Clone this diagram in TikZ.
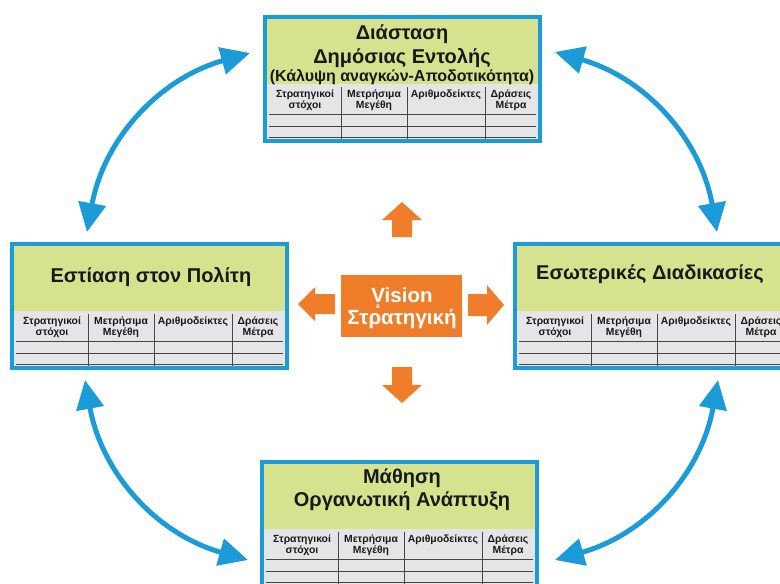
\documentclass[tikz,border=0pt]{standalone}
\usepackage{fontspec}
\setmainfont{Liberation Sans}
\usetikzlibrary{arrows.meta}

\definecolor{cardblue}{RGB}{27,155,215}
\definecolor{cardgreen}{RGB}{214,226,142}
\definecolor{cardgray}{RGB}{229,229,231}
\definecolor{visionorange}{RGB}{240,125,42}
\definecolor{tableline}{RGB}{70,70,70}
\definecolor{inkdark}{RGB}{25,25,25}

\tikzset{
  cardframe/.style={draw=cardblue, line width=4pt, minimum width=275pt,
    minimum height=124pt, inner sep=0pt},
  headtext/.style={anchor=base, inner sep=0pt, text=inkdark,
    font=\fontsize{10.4}{12}\selectfont\bfseries},
  titletext/.style={anchor=base, inner sep=0pt, text=inkdark,
    font=\fontsize{20}{24}\selectfont\bfseries},
  subtitletext/.style={anchor=base, inner sep=0pt, text=inkdark,
    font=\fontsize{16}{18}\selectfont\bfseries},
  visiontext/.style={anchor=base, inner sep=0pt, text=white,
    font=\fontsize{20.5}{24}\selectfont\bfseries},
  gridline/.style={draw=tableline, line width=0.8pt},
  cycle arrow/.style={draw=cardblue, line width=5pt,
    {Triangle[length=29pt,width=27pt]}-{Triangle[length=29pt,width=27pt]}},
  orange arrow/.style={fill=visionorange},
}

% One scorecard panel: #1 name, (#2,#3) top-left corner of its frame
\newcommand{\scorecard}[3]{%
  \begin{scope}[shift={(#2,#3)}]
    \fill[cardgray] (2,2) rectangle (277,126);
    \fill[cardgreen] (2,2) rectangle (277,69);
    \draw[gridline] (6,99) -- (273,99) (6,111) -- (273,111) (6,122) -- (273,122);
    \draw[gridline] (78,72) -- (78,124) (144,72) -- (144,124) (222,72) -- (222,124);
    \node[headtext] (#1-s1) at (42,82) {Στρατηγικοί};
    \node[headtext] (#1-s2) at (42,93) {στόχοι};
    \node[headtext] (#1-m1) at (111,82) {Μετρήσιμα};
    \node[headtext] (#1-m2) at (111,93) {Μεγέθη};
    \node[headtext] (#1-a1) at (183,82) {Αριθμοδείκτες};
    \node[headtext] (#1-d1) at (248,82) {Δράσεις};
    \node[headtext] (#1-d2) at (248,93) {Μέτρα};
    \node[cardframe] (#1) at (139.5,64) {};
  \end{scope}}

\begin{document}
\begin{tikzpicture}[x=1pt,y=-1pt]
  \useasboundingbox (0,0) rectangle (780,584);
  \clip (0,0) rectangle (780,584);
  \fill[white] (0,0) rectangle (780,584);

  % the four perspectives
  \scorecard{mandate}{263}{15}
  \scorecard{citizen}{10}{242}
  \scorecard{process}{513}{242}
  \scorecard{learning}{260}{460}

  \node[titletext] (mandate-t1) at (402,39) {Διάσταση};
  \node[titletext] (mandate-t2) at (402,63) {Δημόσιας Εντολής};
  \node[subtitletext] (mandate-t3) at (402,81) {(Κάλυψη αναγκών-Αποδοτικότητα)};
  \node[titletext] (citizen-t) at (151,282) {Εστίαση στον Πολίτη};
  \node[titletext] (process-t) at (650,279) {Εσωτερικές Διαδικασίες};
  \node[titletext] (learning-t1) at (402,483) {Μάθηση};
  \node[titletext] (learning-t2) at (402,506) {Οργανωτική Ανάπτυξη};

  % centre: vision and strategy
  \node[fill=visionorange, minimum width=121pt, minimum height=62pt, inner sep=0pt]
    (vision) at (401.5,306) {};
  \node[visiontext, text depth=0pt] (vision-t1) at (402,302) {Vision};
  \node[anchor=base, inner sep=0pt, text=white, font=\fontsize{6}{7}\selectfont\bfseries]
    (vision-amp) at (378,308) {\&};
  \node[visiontext, text height=15pt] (vision-t2) at (402,324) {Στρατηγική};

  % orange block arrows around the centre
  \path[orange arrow] (402,202) -- (422,220) -- (412,220) -- (412,237)
    -- (392,237) -- (392,220) -- (382,220) -- cycle;
  \path[orange arrow] (402,403) -- (422,385) -- (412,385) -- (412,367)
    -- (392,367) -- (392,385) -- (382,385) -- cycle;
  \path[orange arrow] (298,304) -- (315,287) -- (315,294) -- (335,294)
    -- (335,314) -- (315,314) -- (315,321) -- cycle;
  \path[orange arrow] (504,305) -- (487,285) -- (487,294) -- (468,294)
    -- (468,316) -- (487,316) -- (487,325) -- cycle;

  % blue two-way arrows between the perspectives
  \coordinate (tl-a) at (87,232);
  \coordinate (tl-b) at (250,53);
  \coordinate (tr-a) at (555,52);
  \coordinate (tr-b) at (717,232);
  \coordinate (br-a) at (718,380);
  \coordinate (br-b) at (555,560);
  \coordinate (bl-a) at (248,560);
  \coordinate (bl-b) at (85,380);
  \draw[cycle arrow] (tl-a) to[bend left=32] (tl-b);
  \draw[cycle arrow] (tr-a) to[bend left=32] (tr-b);
  \draw[cycle arrow] (br-a) to[bend left=32] (br-b);
  \draw[cycle arrow] (bl-a) to[bend left=32] (bl-b);
\end{tikzpicture}
\end{document}
